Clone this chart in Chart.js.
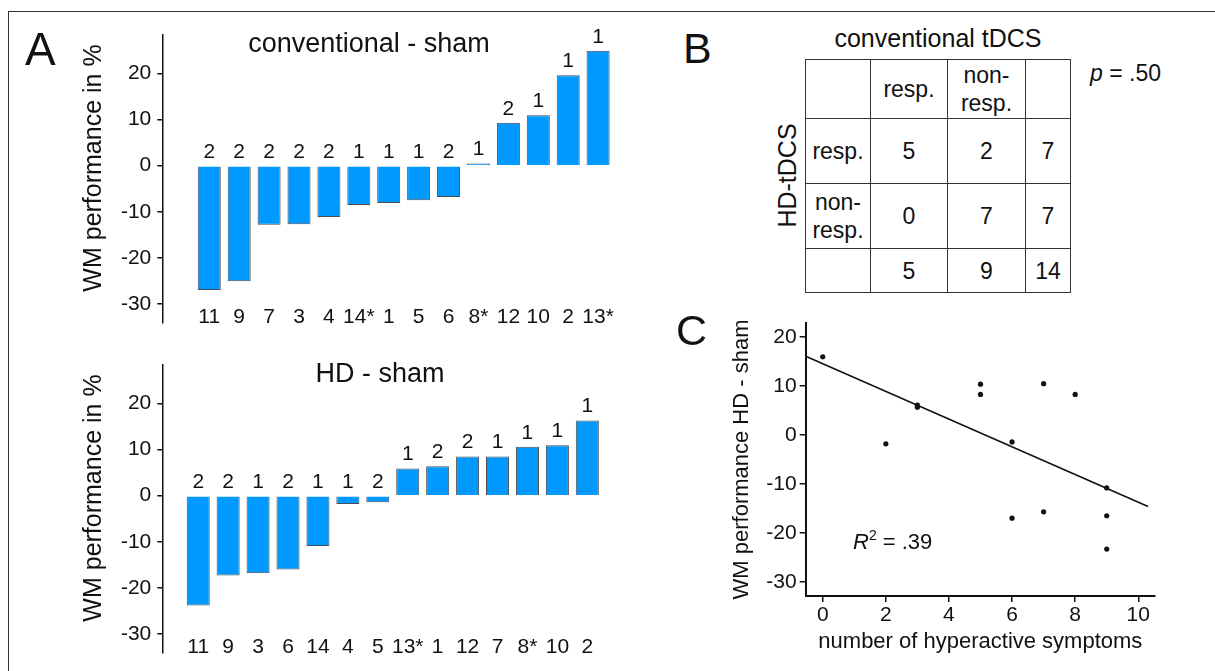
<!DOCTYPE html>
<html>
<head>
<meta charset="utf-8">
<script src="https://cdn.jsdelivr.net/npm/chart.js@4.4.0/dist/chart.umd.min.js"></script>
<style>
  body { margin: 0; background: #fff; }
  #page { position: relative; width: 1215px; height: 671px; overflow: hidden;
          font-family: "Liberation Sans", Arial, sans-serif; color: #111; }
  #frame { position: absolute; left: 8px; top: 11px; width: 1400px; height: 900px;
           border: 1.5px solid #333; box-sizing: border-box; }
  canvas { position: absolute; }
  .txt { position: absolute; white-space: nowrap; line-height: 1; }
  #ct { position: absolute; left: 805px; top: 59px; border-collapse: collapse; table-layout: fixed;
        font-size: 23px; }
  #ct td { border: 1.5px solid #333; text-align: center; vertical-align: middle; padding: 0;
           line-height: 28px; }
</style>
</head>
<body>
<div id="page">
  <div id="frame"></div>
  <canvas id="convChart" width="640" height="330" style="left:0;top:0;width:640px;height:330px"></canvas>
  <canvas id="hdChart" width="640" height="330" style="left:0;top:330px;width:640px;height:330px"></canvas>
  <canvas id="symChart" width="470" height="370" style="left:700px;top:300px;width:470px;height:370px"></canvas>
  <table id="ct"></table>
</div>
<script>
// panel A, top: conventional - sham
const convLabels = ['11', '9', '7', '3', '4', '14*', '1', '5', '6', '8*', '12', '10', '2', '13*'];
const convValues = [-26.9, -25.0, -12.8, -12.7, -11.1, -8.5, -8.1, -7.5, -6.8, 0.5, 9.3, 10.9, 19.6, 24.9];
const convCounts = [2, 2, 2, 2, 2, 1, 1, 1, 2, 1, 2, 1, 1, 1];

// panel A, bottom: HD - sham
const hdLabels = ['11', '9', '3', '6', '14', '4', '5', '13*', '1', '12', '7', '8*', '10', '2'];
const hdValues = [-23.8, -17.3, -16.8, -16.0, -10.9, -1.8, -1.4, 5.9, 6.4, 8.5, 8.5, 10.6, 10.9, 16.3];
const hdCounts = [2, 2, 1, 2, 1, 1, 2, 1, 2, 2, 1, 1, 1, 1];

const barTicks = [-30, -20, -10, 0, 10, 20];

// panel B: contingency table
const colHeads = ['resp.', 'non-<br>resp.'];
const rowHeads = ['resp.', 'non-<br>resp.'];
const tableCells = [[5, 2], [0, 7]];
const rowTotals = [7, 7];
const colTotals = [5, 9];
const grandTotal = 14;

// panel C: scatter
const symptoms = [0, 2, 3, 3, 5, 5, 6, 6, 7, 7, 8, 9, 9, 9];
const hdScores = [16.0, -1.8, 6.1, 5.7, 10.4, 8.3, -1.4, -17.0, 10.5, -15.7, 8.3, -10.8, -16.5, -23.3];
const fitX = [-0.54, 10.31];
const fitY = [16.1, -14.6];
const symXTicks = [0, 2, 4, 6, 8, 10];
const symYTicks = [-30, -20, -10, 0, 10, 20];

const FONT = '"Liberation Sans", Arial, sans-serif';
Chart.defaults.font.family = FONT;
Chart.defaults.color = '#111';

const page = document.getElementById('page');
function addText(html, x, baseline, size, opts = {}) {
  const d = document.createElement('div');
  d.className = 'txt';
  d.innerHTML = html;
  d.style.fontSize = size + 'px';
  d.style.top = (baseline - 0.8465 * size) + 'px';
  d.style.left = x + 'px';
  if (opts.center) {
    d.style.transform = 'translateX(-50%)' + (opts.rotate ? ' rotate(-90deg)' : '');
  }
  page.appendChild(d);
  return d;
}

// rotated y title drawn on the chart canvas
const sideTitle = {
  id: 'sideTitle',
  afterDraw(chart, args, o) {
    const ctx = chart.ctx;
    ctx.save();
    ctx.translate(o.x, o.y);
    ctx.rotate(-Math.PI / 2);
    ctx.font = o.size + 'px ' + FONT;
    ctx.fillStyle = '#111';
    ctx.textAlign = 'center';
    ctx.textBaseline = 'alphabetic';
    ctx.fillText(o.text, 0, 0);
    ctx.restore();
  }
};

// subject labels sit level with the bottom of the y axis
const xLabels = {
  id: 'xLabels',
  afterDraw(chart, args, o) {
    const sx = chart.scales.x;
    const ctx = chart.ctx;
    ctx.save();
    ctx.font = '21px ' + FONT;
    ctx.fillStyle = '#111';
    ctx.textAlign = 'center';
    ctx.textBaseline = 'alphabetic';
    o.labels.forEach((t, i) => ctx.fillText(t, sx.getPixelForValue(i), o.baseline));
    ctx.restore();
  }
};

const countLabels = {
  id: 'countLabels',
  afterDatasetsDraw(chart) {
    const meta = chart.getDatasetMeta(0);
    const counts = chart.data.datasets[0].counts;
    const ctx = chart.ctx;
    ctx.save();
    ctx.font = '21px ' + FONT;
    ctx.fillStyle = '#111';
    ctx.textAlign = 'center';
    ctx.textBaseline = 'alphabetic';
    meta.data.forEach((bar, i) => {
      const top = Math.min(bar.y, bar.base);
      ctx.fillText(counts[i], bar.x, top - 8);
    });
    ctx.restore();
  }
};

function barChart(id, labels, values, counts, xMin, xMax) {
  return new Chart(document.getElementById(id), {
    type: 'bar',
    data: {
      datasets: [{
        data: values.map((v, i) => ({ x: i, y: v })),
        counts: counts,
        backgroundColor: '#0099ff',
        borderColor: '#4d4d4d',
        borderWidth: 1,
        barPercentage: 0.77,
        categoryPercentage: 1
      }]
    },
    options: {
      responsive: false,
      animation: false,
      layout: { padding: { top: 35, left: 0, right: 0, bottom: 0 } },
      plugins: {
        legend: { display: false },
        tooltip: { enabled: false },
        sideTitle: { text: 'WM performance in %', x: 101, y: 168, size: 25 },
        xLabels: { labels: labels, baseline: 323 }
      },
      scales: {
        x: {
          type: 'linear', min: xMin, max: xMax, offset: false,
          grid: { display: false }, border: { display: false },
          afterFit: ax => { ax.height = 7.3; ax.paddingLeft = 0; ax.paddingRight = 0; },
          ticks: { display: false }
        },
        y: {
          min: -34, max: 28.3,
          afterBuildTicks: ax => { ax.ticks = barTicks.map(v => ({ value: v })); },
          afterFit: ax => { ax.width = 162.3; ax.paddingTop = 0; ax.paddingBottom = 0; },
          grid: { drawOnChartArea: false, drawTicks: true, tickLength: 5, color: '#111', lineWidth: 1.5 },
          border: { display: true, color: '#111', width: 1.5 },
          ticks: { padding: 6, font: { size: 21 } }
        }
      }
    },
    plugins: [countLabels, sideTitle, xLabels]
  });
}

barChart('convChart', convLabels, convValues, convCounts, -1.57, 14.4);
barChart('hdChart', hdLabels, hdValues, hdCounts, -1.2, 14.76);

new Chart(document.getElementById('symChart'), {
  type: 'scatter',
  data: {
    datasets: [
      {
        data: symptoms.map((s, i) => ({ x: s, y: hdScores[i] })),
        pointRadius: 2.6, backgroundColor: '#111', borderWidth: 0
      },
      {
        type: 'line',
        data: fitX.map((x, i) => ({ x: x, y: fitY[i] })),
        borderColor: '#111', borderWidth: 1.5, pointRadius: 0, showLine: true, fill: false
      }
    ]
  },
  options: {
    responsive: false,
    animation: false,
    layout: { padding: { top: 23, right: 15, left: 0, bottom: 0 } },
    plugins: { legend: { display: false }, tooltip: { enabled: false } },
    scales: {
      x: {
        type: 'linear', min: -0.54, max: 10.53,
        afterBuildTicks: ax => { ax.ticks = symXTicks.map(v => ({ value: v })); },
        afterFit: ax => { ax.height = 74; },
        grid: { drawOnChartArea: false, tickLength: 6, color: '#111', lineWidth: 1.5 },
        border: { color: '#111', width: 2 },
        ticks: { padding: 1, font: { size: 21 } },
        title: { display: true, text: 'number of hyperactive symptoms', font: { size: 22 },
                 padding: { top: 0, bottom: 15 } }
      },
      y: {
        min: -32.9, max: 22.9,
        afterBuildTicks: ax => { ax.ticks = symYTicks.map(v => ({ value: v })); },
        afterFit: ax => { ax.width = 105.7; ax.paddingTop = 0; ax.paddingBottom = 0; },
        grid: { drawOnChartArea: false, tickLength: 6, color: '#111', lineWidth: 1.5 },
        border: { color: '#111', width: 2 },
        ticks: { padding: 3, font: { size: 21 } },
        title: { display: true, text: 'WM performance HD - sham', font: { size: 22 },
                 padding: { top: 29, bottom: 0 } }
      }
    }
  }
});

// contingency table
const ct = document.getElementById('ct');
const colW = [65, 77, 78, 45];
const rowH = [59, 65, 65, 44];
const rows = [
  [''].concat(colHeads, ['']),
  [rowHeads[0]].concat(tableCells[0], [rowTotals[0]]),
  [rowHeads[1]].concat(tableCells[1], [rowTotals[1]]),
  [''].concat(colTotals, [grandTotal])
];
const cg = document.createElement('colgroup');
colW.forEach(w => { const c = document.createElement('col'); c.style.width = w + 'px'; cg.appendChild(c); });
ct.appendChild(cg);
rows.forEach((r, ri) => {
  const tr = document.createElement('tr');
  tr.style.height = rowH[ri] + 'px';
  r.forEach(v => { const td = document.createElement('td'); td.innerHTML = v; tr.appendChild(td); });
  ct.appendChild(tr);
});

// free text
addText('A', 25, 65, 46);
addText('conventional - sham', 369, 53, 27, { center: true });
addText('HD - sham', 380, 383, 27, { center: true });
addText('B', 683, 63, 43);
addText('conventional tDCS', 938, 47, 25, { center: true });
addText('<i>p</i> = .50', 1090, 81, 23);
addText('HD-tDCS', 787, 175 + 0.8465 * 25 - 12.5, 25, { center: true, rotate: true });
addText('C', 676, 345, 43);
addText('<i>R</i><sup style="font-size:14px;vertical-align:9px">2</sup> = .39', 853, 547, 22);
</script>
</body>
</html>
